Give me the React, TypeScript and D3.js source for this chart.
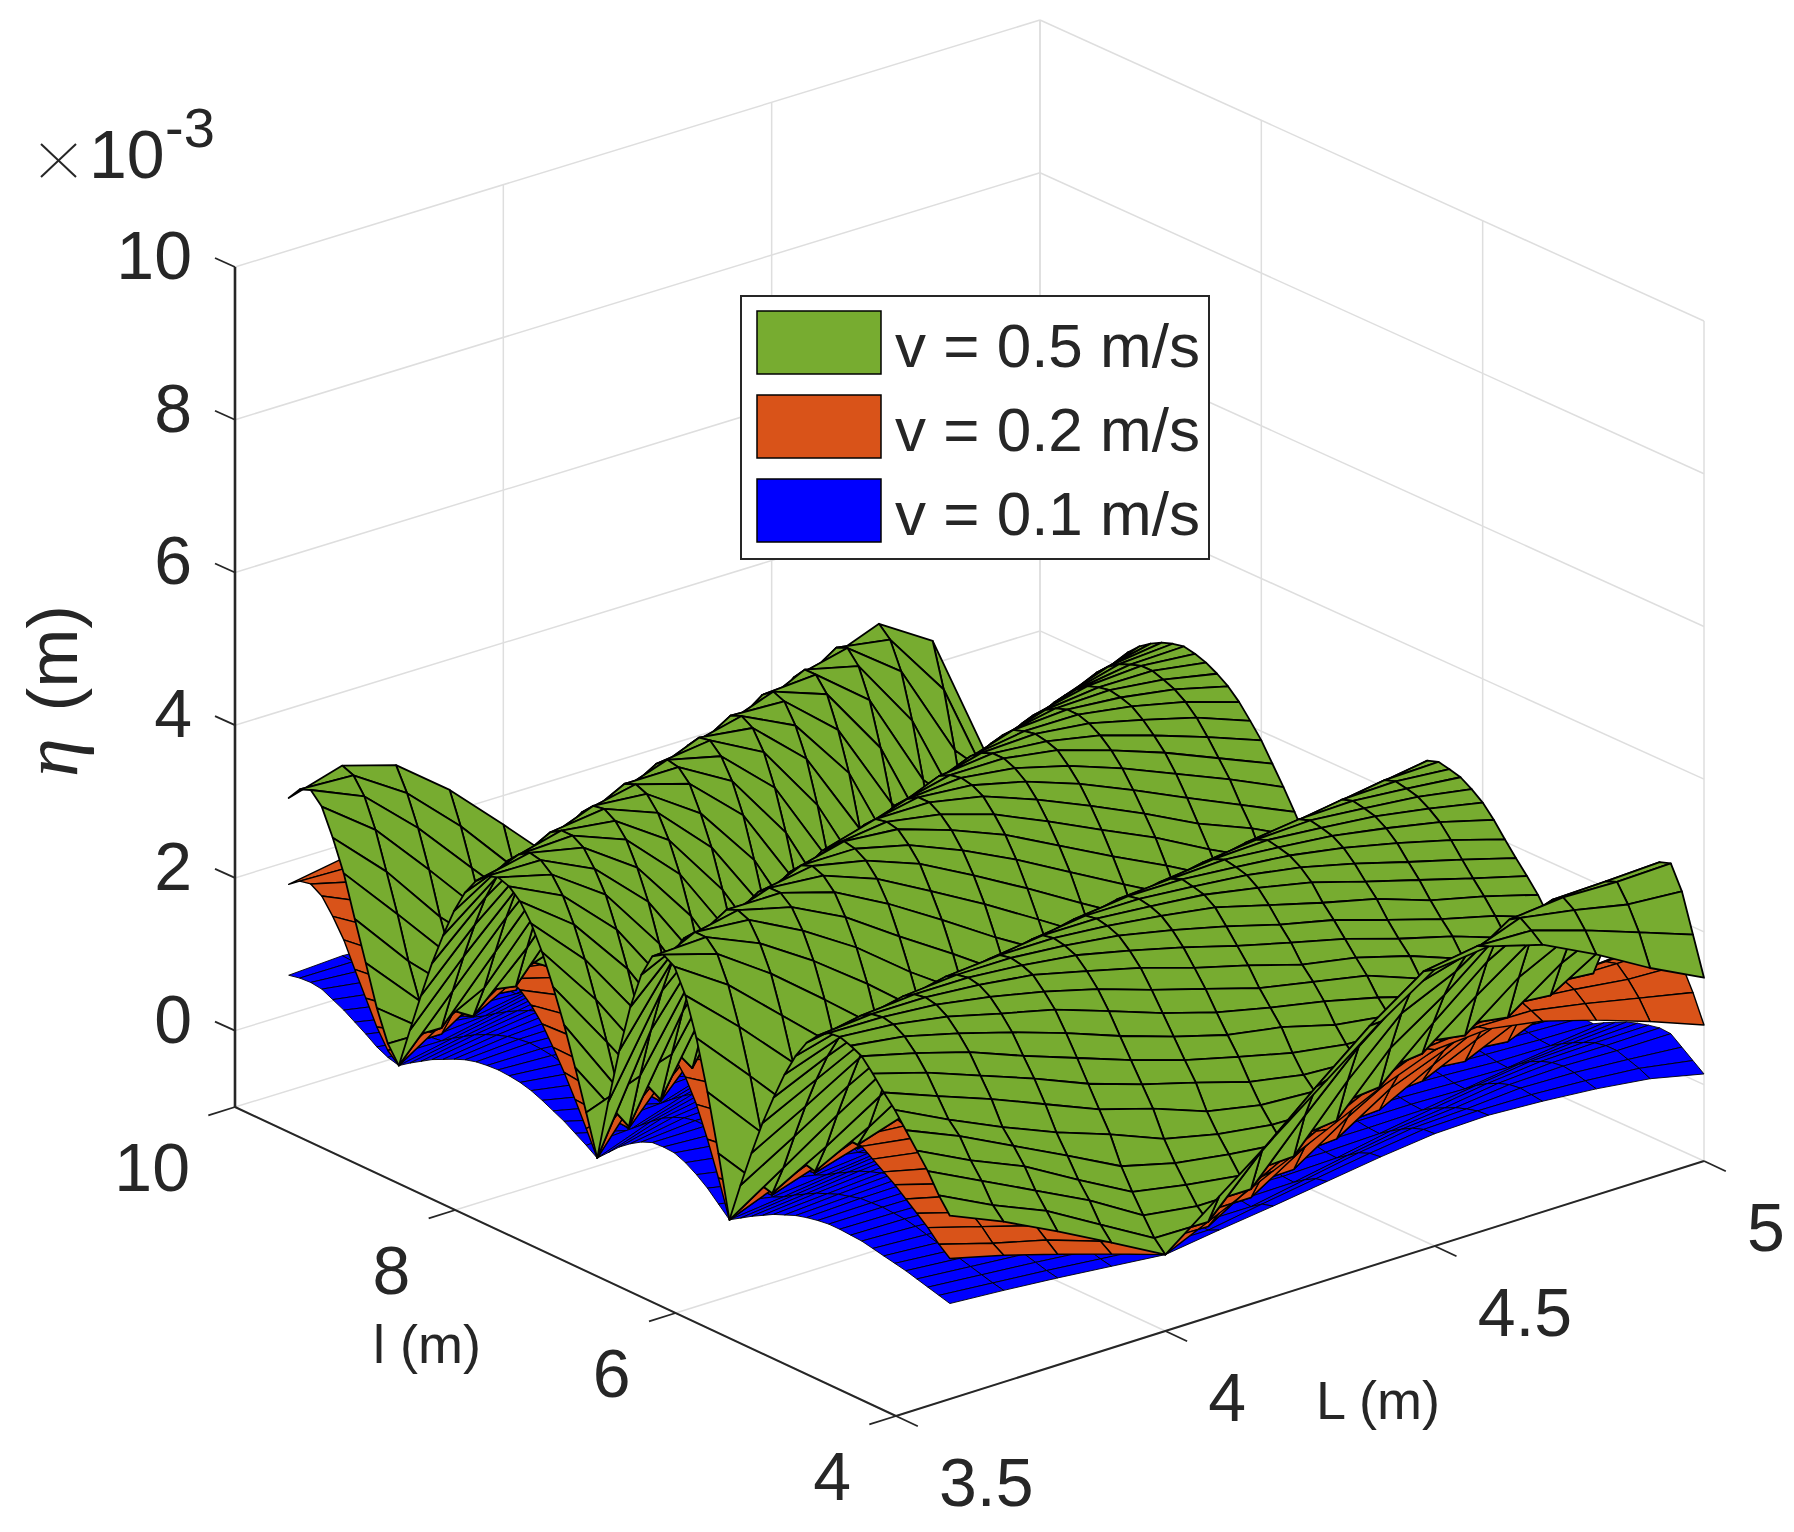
import { useEffect, useRef } from "react";
import * as d3 from "d3";

const W = 1794;
const H = 1532;

// grid of the surfaces (mesh lines)
const lengthL = [3.6, 3.7, 3.8, 3.9, 4.0, 4.1, 4.2, 4.3, 4.4, 4.5, 4.6, 4.7, 4.8, 4.9, 5.0];
const lengthS = [
	4, 4.1, 4.2, 4.3, 4.4, 4.5, 4.6, 4.7, 4.8, 4.9, 5,
	5.1, 5.2, 5.3, 5.4, 5.5, 5.6, 5.7, 5.8, 5.9, 6,
	6.1, 6.2, 6.3, 6.4, 6.5, 6.6, 6.7, 6.8, 6.9, 7,
	7.1, 7.2, 7.3, 7.4, 7.5, 7.6, 7.7, 7.8, 7.9, 8,
	8.1, 8.2, 8.3, 8.4, 8.5, 8.6, 8.7, 8.8, 8.9, 9,
	9.1, 9.2, 9.3, 9.4, 9.5, 9.6, 9.7, 9.8, 9.9, 10,
];

const xTicks = [3.5, 4, 4.5, 5];
const xTickLabels = ["3.5", "4", "4.5", "5"];
const yTicks = [4, 6, 8, 10];
const zTicks = [0, 2, 4, 6, 8, 10];

const legendLabels = ["v = 0.5 m/s", "v = 0.2 m/s", "v = 0.1 m/s"];
const colors = { green: "#77ac30", orange: "#d95319", blue: "#0000ff" };

// eta x 10^3, one row per value of lengthL, one entry per value of lengthS
const etaV05 = [
	[1.40, 1.60,1.85,2.05,2.25,2.45,2.61,2.79,2.95,3.02,3.07, 3.05,2.95,2.79,2.55,2.24,1.87,1.47,1.01,.52,0, .80,1.54,2.18,2.67,2.98,3.07,2.98,2.67,2.18,1.54, .80,0,.53,1.05,1.54,1.97,2.36,2.67,2.89,3.02, 3.07,3.02,2.89,2.67,2.36,1.97,1.54,1.05,.53,0, .22,.62,1.14,1.65,2.18,2.58,2.92,3.07,3.01,2.83],
	[1.10, 1.25,1.50,1.70,1.95,2.10,2.34,2.58,2.77,2.92,3.01, 3.04,3.01,2.92,2.74,2.49,2.19,1.82,1.40,.94,.46, .06,.79,1.46,2.04,2.52,2.86,3.01,3.01,2.86,2.52, 2.04,1.46,.79,.06,.49,1.03,1.52,1.98,2.37,2.68, 2.89,3.01,3.04,2.95,2.80,2.52,2.19,1.76,1.28,.76, .21,.09,.43,.88,1.43,1.92,2.40,2.77,2.98,3.04],
	[.75, .95,1.15,1.40,1.60,1.78,2.08,2.32,2.56,2.74,2.89, 2.98,3.01,2.98,2.89,2.71,2.47,2.17,1.81,1.38,.93, .45,.06,.72,1.35,1.90,2.38,2.71,2.95,3.01,2.95, 2.71,2.38,1.90,1.35,.72,.06,.51,1.05,1.57,2.02, 2.41,2.68,2.89,2.98,2.98,2.89,2.68,2.35,1.96,1.51, .99,.45,.01,.24,.66,1.11,1.66,2.14,2.53,2.83],
	[.38, .55,.80,1.00,1.25,1.49,1.79,2.06,2.29,2.53,2.71, 2.86,2.95,2.98,2.95,2.86,2.68,2.44,2.15,1.76,1.37, .89,.42,.12,.72,1.28,1.82,2.26,2.59,2.83,2.95, 2.95,2.83,2.59,2.26,1.82,1.28,.72,.12,.48,1.04, 1.55,2.03,2.41,2.71,2.89,2.98,2.95,2.80,2.53,2.18, 1.76,1.25,.69,.12,.12,.45,.89,1.40,1.88,2.29],
	[0, .15,.38,.62,.89,1.24,1.50,1.77,2.04,2.30,2.54, 2.71,2.86,2.92,2.95,2.92,2.80,2.63,2.39,2.09,1.71, 1.30,.86,.35,.18,.71,1.24,1.74,2.15,2.48,2.74, 2.89,2.95,2.89,2.74,2.48,2.15,1.74,1.24,.71,.18, .41,1.00,1.56,2.04,2.42,2.71,2.89,2.95,2.89,2.68, 2.39,1.98,1.50,.94,.35,.03,.30,.68,1.12,1.62],
	[.54, .14,.28,.49,.71,.96,1.29,1.54,1.79,2.04,2.30, 2.52,2.69,2.83,2.89,2.92,2.89,2.77,2.60,2.37,2.07, 1.69,1.28,.85,.35,.15,.67,1.17,1.61,2.01,2.37, 2.63,2.80,2.89,2.92,2.80,2.66,2.39,2.07,1.66,1.20, .70,.20,.38,.99,1.55,2.04,2.42,2.74,2.89,2.92, 2.80,2.57,2.22,1.75,1.23,.61,0,.18,.50,.93],
	[1.08, .85,.28,.39,.60,.80,1.03,1.34,1.57,1.81,2.05, 2.29,2.51,2.67,2.80,2.86,2.89,2.86,2.75,2.57,2.31, 2.02,1.65,1.24,.78,.29,.20,.66,1.13,1.56,1.94, 2.25,2.54,2.72,2.86,2.89,2.86,2.72,2.54,2.25,1.94, 1.56,1.13,.66,.20,.38,1.01,1.59,2.11,2.49,2.75, 2.89,2.86,2.69,2.37,1.97,1.42,.84,.20,.09,.38],
	[1.62, 1.46,1.02,.42,.52,.70,.89,1.13,1.39,1.61,1.84, 2.08,2.29,2.49,2.65,2.77,2.83,2.86,2.83,2.72,2.52, 2.29,1.97,1.60,1.17,.72,.23,.23,.66,1.09,1.49, 1.86,2.17,2.43,2.63,2.77,2.86,2.86,2.77,2.63,2.43, 2.17,1.86,1.49,1.09,.66,.23,.34,1.00,1.60,2.12, 2.52,2.77,2.86,2.80,2.57,2.20,1.72,1.12,.49,.02],
	[2.16, 2.04,1.70,1.19,.60,.68,.85,1.00,1.22,1.49,1.68, 1.87,2.10,2.29,2.48,2.66,2.76,2.80,2.83,2.77,2.66, 2.49,2.21,1.92,1.56,1.13,.68,.20,.25,.65,1.08, 1.44,1.78,2.09,2.35,2.55,2.72,2.80,2.83,2.80,2.72, 2.55,2.35,2.09,1.78,1.44,1.08,.65,.25,.28,.96, 1.61,2.15,2.52,2.77,2.83,2.72,2.43,2.01,1.42,.76],
	[2.62, 2.53,2.26,1.85,1.33,.75,.82,.96,1.11,1.30,1.54, 1.73,1.89,2.11,2.28,2.47,2.63,2.73,2.77,2.80,2.74, 2.63,2.46,2.18,1.90,1.54,1.12,.67,.20,.22,.62, 1.01,1.37,1.71,1.99,2.24,2.46,2.63,2.74,2.80,2.80, 2.74,2.63,2.46,2.24,1.99,1.71,1.37,1.01,.62,.22, .31,1.01,1.68,2.18,2.58,2.77,2.77,2.60,2.24,1.71],
	[2.70, 2.64,2.46,2.17,1.80,1.37,.90,.96,1.08,1.20,1.37, 1.59,1.76,1.94,2.12,2.28,2.48,2.61,2.70,2.74,2.77, 2.71,2.60,2.41,2.16,1.86,1.50,1.08,.64,.14,.25, .64,.97,1.33,1.63,1.91,2.16,2.38,2.55,2.69,2.74, 2.77,2.74,2.69,2.55,2.38,2.16,1.91,1.63,1.33,.97, .64,.25,.22,1.00,1.66,2.22,2.60,2.77,2.71,2.47],
	[2.50, 2.62,2.72,2.63,2.36,1.95,1.43,.85,.91,1.04,1.16, 1.33,1.56,1.72,1.90,2.11,2.27,2.44,2.58,2.67,2.71, 2.74,2.69,2.55,2.36,2.11,1.78,1.42,1.01,.58,.11, .27,.63,.96,1.29,1.59,1.84,2.08,2.30,2.47,2.60, 2.69,2.74,2.74,2.69,2.60,2.47,2.30,2.08,1.84,1.59, 1.29,.96,.63,.27,.16,.96,1.67,2.25,2.60,2.74],
	[2.15, 2.40,2.60,2.70,2.60,2.34,1.92,1.39,.80,.86,.99, 1.12,1.30,1.53,1.69,1.87,2.07,2.24,2.42,2.55,2.64, 2.68,2.71,2.66,2.52,2.33,2.09,1.76,1.41,1.00,.57, .11,.27,.60,.92,1.22,1.49,1.76,2.01,2.22,2.38, 2.52,2.63,2.68,2.71,2.68,2.63,2.52,2.38,2.22,2.01, 1.76,1.49,1.22,.92,.60,.27,.16,1.00,1.73,2.30],
	[1.75, 2.15,2.45,2.68,2.62,2.43,2.13,1.74,1.29,.80,.86, .99,1.13,1.29,1.51,1.70,1.87,2.05,2.24,2.41,2.52, 2.61,2.65,2.68,2.63,2.49,2.30,2.04,1.72,1.37,.96, .51,.05,.29,.59,.88,1.21,1.45,1.72,1.93,2.14, 2.33,2.47,2.57,2.63,2.68,2.68,2.63,2.57,2.47,2.33, 2.14,1.93,1.72,1.45,1.21,.88,.59,.29,.08,.60],
	[1.40, 1.90,2.40,2.70,2.65,2.51,2.28,1.98,1.62,1.22,.80, .86,.98,1.12,1.27,1.50,1.68,1.85,2.03,2.22,2.38, 2.49,2.58,2.62,2.65,2.60,2.44,2.25,1.99,1.67,1.30, .90,.45,0,.29,.58,.87,1.14,1.40,1.64,1.88, 2.07,2.25,2.39,2.49,2.57,2.62,2.65,2.62,2.57,2.49, 2.39,2.25,2.07,1.88,1.64,1.40,1.14,.87,.58,.29],
];

const etaV02 = [
	[.84, .96,1.11,1.23,1.35,1.47,1.57,1.67,1.77,1.81,1.84, 1.83,1.77,1.67,1.53,1.34,1.12,.88,.61,.31,0, .48,.92,1.31,1.60,1.79,1.84,1.79,1.60,1.31,.92, .48,0,.32,.63,.92,1.18,1.42,1.60,1.73,1.81, 1.84,1.81,1.73,1.60,1.42,1.18,.92,.63,.32,0, .13,.37,.68,.99,1.31,1.55,1.75,1.84,1.81,1.70],
	[.66, .75,.90,1.02,1.17,1.26,1.40,1.55,1.66,1.75,1.81, 1.82,1.81,1.75,1.64,1.49,1.31,1.09,.84,.56,.28, .04,.47,.88,1.22,1.51,1.72,1.81,1.81,1.72,1.51, 1.22,.88,.47,.04,.29,.62,.91,1.19,1.42,1.61, 1.73,1.81,1.82,1.77,1.68,1.51,1.31,1.06,.77,.46, .13,.05,.26,.53,.86,1.15,1.44,1.66,1.79,1.82],
	[.45, .57,.69,.84,.96,1.07,1.25,1.39,1.54,1.64,1.73, 1.79,1.81,1.79,1.73,1.63,1.48,1.30,1.09,.83,.56, .27,.04,.43,.81,1.14,1.43,1.63,1.77,1.81,1.77, 1.63,1.43,1.14,.81,.43,.04,.31,.63,.94,1.21, 1.45,1.61,1.73,1.79,1.79,1.73,1.61,1.41,1.18,.91, .59,.27,.01,.14,.40,.67,1.00,1.28,1.52,1.70],
	[.23, .33,.48,.60,.75,.89,1.07,1.24,1.37,1.52,1.63, 1.72,1.77,1.79,1.77,1.72,1.61,1.46,1.29,1.06,.82, .53,.25,.07,.43,.77,1.09,1.36,1.55,1.70,1.77, 1.77,1.70,1.55,1.36,1.09,.77,.43,.07,.29,.62, .93,1.22,1.45,1.63,1.73,1.79,1.77,1.68,1.52,1.31, 1.06,.75,.41,.07,.07,.27,.53,.84,1.13,1.37],
	[0, .09,.23,.37,.53,.74,.90,1.06,1.22,1.38,1.52, 1.63,1.72,1.75,1.77,1.75,1.68,1.58,1.43,1.25,1.03, .78,.52,.21,.11,.43,.74,1.04,1.29,1.49,1.64, 1.73,1.77,1.73,1.64,1.49,1.29,1.04,.74,.43,.11, .25,.60,.94,1.22,1.45,1.63,1.73,1.77,1.73,1.61, 1.43,1.19,.90,.56,.21,.02,.18,.41,.67,.97],
	[.32, .08,.17,.29,.43,.58,.77,.92,1.07,1.22,1.38, 1.51,1.61,1.70,1.73,1.75,1.73,1.66,1.56,1.42,1.24, 1.01,.77,.51,.21,.09,.40,.70,.97,1.21,1.42, 1.58,1.68,1.73,1.75,1.68,1.60,1.43,1.24,1.00,.72, .42,.12,.23,.59,.93,1.22,1.45,1.64,1.73,1.75, 1.68,1.54,1.33,1.05,.74,.37,0,.11,.30,.56],
	[.65, .51,.17,.23,.36,.48,.62,.80,.94,1.09,1.23, 1.37,1.51,1.60,1.68,1.72,1.73,1.72,1.65,1.54,1.39, 1.21,.99,.74,.47,.17,.12,.40,.68,.94,1.16, 1.35,1.52,1.63,1.72,1.73,1.72,1.63,1.52,1.35,1.16, .94,.68,.40,.12,.23,.61,.95,1.27,1.49,1.65, 1.73,1.72,1.61,1.42,1.18,.85,.50,.12,.05,.23],
	[.97, .88,.61,.25,.31,.42,.53,.68,.83,.97,1.10, 1.25,1.37,1.49,1.59,1.66,1.70,1.72,1.70,1.63,1.51, 1.37,1.18,.96,.70,.43,.14,.14,.40,.65,.89, 1.12,1.30,1.46,1.58,1.66,1.72,1.72,1.66,1.58,1.46, 1.30,1.12,.89,.65,.40,.14,.20,.60,.96,1.27, 1.51,1.66,1.72,1.68,1.54,1.32,1.03,.67,.29,.01],
	[1.30, 1.22,1.02,.71,.36,.41,.51,.60,.73,.89,1.01, 1.12,1.26,1.37,1.49,1.60,1.66,1.68,1.70,1.66,1.60, 1.49,1.33,1.15,.94,.68,.41,.12,.15,.39,.65, .86,1.07,1.25,1.41,1.53,1.63,1.68,1.70,1.68,1.63, 1.53,1.41,1.25,1.07,.86,.65,.39,.15,.17,.58, .97,1.29,1.51,1.66,1.70,1.63,1.46,1.21,.85,.46],
	[1.57, 1.52,1.36,1.11,.80,.45,.49,.58,.67,.78,.92, 1.04,1.13,1.27,1.37,1.48,1.58,1.64,1.66,1.68,1.64, 1.58,1.48,1.31,1.14,.92,.67,.40,.12,.13,.37, .61,.82,1.03,1.19,1.34,1.48,1.58,1.64,1.68,1.68, 1.64,1.58,1.48,1.34,1.19,1.03,.82,.61,.37,.13, .19,.61,1.01,1.31,1.55,1.66,1.66,1.56,1.34,1.03],
	[1.62, 1.58,1.48,1.30,1.08,.82,.54,.58,.65,.72,.82, .95,1.06,1.16,1.27,1.37,1.49,1.57,1.62,1.64,1.66, 1.63,1.56,1.45,1.30,1.12,.90,.65,.38,.08,.15, .38,.58,.80,.98,1.15,1.30,1.43,1.53,1.61,1.64, 1.66,1.64,1.61,1.53,1.43,1.30,1.15,.98,.80,.58, .38,.15,.13,.60,1.00,1.33,1.56,1.66,1.63,1.48],
	[1.50, 1.57,1.63,1.58,1.42,1.17,.86,.51,.55,.62,.70, .80,.94,1.03,1.14,1.27,1.36,1.46,1.55,1.60,1.63, 1.64,1.61,1.53,1.42,1.27,1.07,.85,.61,.35,.07, .16,.38,.58,.77,.95,1.10,1.25,1.38,1.48,1.56, 1.61,1.64,1.64,1.61,1.56,1.48,1.38,1.25,1.10,.95, .77,.58,.38,.16,.10,.58,1.00,1.35,1.56,1.64],
	[1.29, 1.44,1.56,1.62,1.56,1.40,1.15,.83,.48,.52,.59, .67,.78,.92,1.01,1.12,1.24,1.34,1.45,1.53,1.58, 1.61,1.63,1.60,1.51,1.40,1.25,1.06,.85,.60,.34, .07,.16,.36,.55,.73,.89,1.06,1.21,1.33,1.43, 1.51,1.58,1.61,1.63,1.61,1.58,1.51,1.43,1.33,1.21, 1.06,.89,.73,.55,.36,.16,.10,.60,1.04,1.38],
	[1.05, 1.29,1.47,1.61,1.57,1.46,1.28,1.04,.77,.48,.52, .59,.68,.77,.91,1.02,1.12,1.23,1.34,1.45,1.51, 1.57,1.59,1.61,1.58,1.49,1.38,1.22,1.03,.82,.58, .31,.03,.17,.35,.53,.73,.87,1.03,1.16,1.28, 1.40,1.48,1.54,1.58,1.61,1.61,1.58,1.54,1.48,1.40, 1.28,1.16,1.03,.87,.73,.53,.35,.17,.05,.36],
	[.78, 1.14,1.44,1.62,1.59,1.51,1.37,1.19,.97,.73,.48, .52,.59,.67,.76,.90,1.01,1.11,1.22,1.33,1.43, 1.49,1.55,1.57,1.59,1.56,1.46,1.35,1.19,1.00,.78, .54,.27,0,.17,.35,.52,.68,.84,.98,1.13, 1.24,1.35,1.43,1.49,1.54,1.57,1.59,1.57,1.54,1.49, 1.43,1.35,1.24,1.13,.98,.84,.68,.52,.35,.17],
];

const etaV01 = [
	[.25, .29,.33,.37,.41,.44,.47,.50,.53,.54,.55, .55,.53,.50,.46,.40,.34,.26,.18,.09,0, .14,.28,.39,.48,.54,.55,.54,.48,.39,.28, .14,0,.10,.19,.28,.35,.42,.48,.52,.54, .55,.54,.52,.48,.42,.35,.28,.19,.10,0, .04,.11,.21,.30,.39,.46,.53,.55,.54,.51],
	[.20, .23,.27,.31,.35,.38,.42,.46,.50,.53,.54, .55,.54,.53,.49,.45,.39,.33,.25,.17,.08, .01,.14,.26,.37,.45,.51,.54,.54,.51,.45, .37,.26,.14,.01,.09,.19,.27,.36,.43,.48, .52,.54,.55,.53,.50,.45,.39,.32,.23,.14, .04,.02,.08,.16,.26,.35,.43,.50,.54,.55],
	[.14, .17,.21,.25,.29,.32,.37,.42,.46,.49,.52, .54,.54,.54,.52,.49,.44,.39,.33,.25,.17, .08,.01,.13,.24,.34,.43,.49,.53,.54,.53, .49,.43,.34,.24,.13,.01,.09,.19,.28,.36, .43,.48,.52,.54,.54,.52,.48,.42,.35,.27, .18,.08,0,.04,.12,.20,.30,.39,.46,.51],
	[.07, .10,.14,.18,.23,.27,.32,.37,.41,.46,.49, .51,.53,.54,.53,.51,.48,.44,.39,.32,.25, .16,.08,.02,.13,.23,.33,.41,.47,.51,.53, .53,.51,.47,.41,.33,.23,.13,.02,.09,.19, .28,.37,.43,.49,.52,.54,.53,.50,.46,.39, .32,.23,.12,.02,.02,.08,.16,.25,.34,.41],
	[0, .03,.07,.11,.16,.22,.27,.32,.37,.41,.46, .49,.51,.53,.53,.53,.50,.47,.43,.38,.31, .23,.15,.06,.03,.13,.22,.31,.39,.45,.49, .52,.53,.52,.49,.45,.39,.31,.22,.13,.03, .07,.18,.28,.37,.44,.49,.52,.53,.52,.48, .43,.36,.27,.17,.06,.01,.05,.12,.20,.29],
	[.10, .03,.05,.09,.13,.17,.23,.28,.32,.37,.41, .45,.48,.51,.52,.53,.52,.50,.47,.43,.37, .30,.23,.15,.06,.03,.12,.21,.29,.36,.43, .47,.50,.52,.53,.50,.48,.43,.37,.30,.22, .13,.04,.07,.18,.28,.37,.44,.49,.52,.53, .50,.46,.40,.32,.22,.11,0,.03,.09,.17],
	[.19, .15,.05,.07,.11,.14,.19,.24,.28,.33,.37, .41,.45,.48,.50,.51,.52,.51,.50,.46,.42, .36,.30,.22,.14,.05,.04,.12,.20,.28,.35, .41,.46,.49,.51,.52,.51,.49,.46,.41,.35, .28,.20,.12,.04,.07,.18,.29,.38,.45,.50, .52,.51,.48,.43,.35,.26,.15,.04,.02,.07],
	[.29, .26,.18,.08,.09,.13,.16,.20,.25,.29,.33, .37,.41,.45,.48,.50,.51,.51,.51,.49,.45, .41,.35,.29,.21,.13,.04,.04,.12,.20,.27, .33,.39,.44,.47,.50,.51,.51,.50,.47,.44, .39,.33,.27,.20,.12,.04,.06,.18,.29,.38, .45,.50,.51,.50,.46,.40,.31,.20,.09,0],
	[.39, .37,.31,.21,.11,.12,.15,.18,.22,.27,.30, .34,.38,.41,.45,.48,.50,.50,.51,.50,.48, .45,.40,.35,.28,.20,.12,.04,.05,.12,.19, .26,.32,.38,.42,.46,.49,.50,.51,.50,.49, .46,.42,.38,.32,.26,.19,.12,.05,.05,.17, .29,.39,.45,.50,.51,.49,.44,.36,.26,.14],
	[.47, .46,.41,.33,.24,.14,.15,.17,.20,.23,.28, .31,.34,.38,.41,.44,.47,.49,.50,.50,.49, .47,.44,.39,.34,.28,.20,.12,.04,.04,.11, .18,.25,.31,.36,.40,.44,.47,.49,.50,.50, .49,.47,.44,.40,.36,.31,.25,.18,.11,.04, .06,.18,.30,.39,.46,.50,.50,.47,.40,.31],
	[.49, .48,.44,.39,.32,.25,.16,.17,.19,.22,.25, .29,.32,.35,.38,.41,.45,.47,.49,.49,.50, .49,.47,.43,.39,.33,.27,.19,.12,.03,.05, .12,.17,.24,.29,.34,.39,.43,.46,.48,.49, .50,.49,.48,.46,.43,.39,.34,.29,.24,.17, .12,.05,.04,.18,.30,.40,.47,.50,.49,.44],
	[.45, .47,.49,.47,.42,.35,.26,.15,.16,.19,.21, .24,.28,.31,.34,.38,.41,.44,.46,.48,.49, .49,.48,.46,.42,.38,.32,.26,.18,.10,.02, .05,.11,.17,.23,.29,.33,.37,.41,.44,.47, .48,.49,.49,.48,.47,.44,.41,.37,.33,.29, .23,.17,.11,.05,.03,.17,.30,.41,.47,.49],
	[.39, .43,.47,.49,.47,.42,.35,.25,.14,.15,.18, .20,.23,.28,.30,.34,.37,.40,.44,.46,.48, .48,.49,.48,.45,.42,.38,.32,.25,.18,.10, .02,.05,.11,.17,.22,.27,.32,.36,.40,.43, .45,.47,.48,.49,.48,.47,.45,.43,.40,.36, .32,.27,.22,.17,.11,.05,.03,.18,.31,.41],
	[.30, .37,.42,.47,.47,.44,.38,.31,.23,.14,.15, .18,.20,.23,.27,.31,.34,.37,.40,.43,.45, .47,.48,.48,.47,.45,.41,.37,.31,.25,.17, .09,.01,.05,.11,.16,.22,.26,.31,.35,.39, .42,.44,.46,.47,.48,.48,.47,.46,.44,.42, .39,.35,.31,.26,.22,.16,.11,.05,.01,.11],
	[.14, .25,.36,.47,.48,.45,.41,.36,.29,.22,.14, .15,.18,.20,.23,.27,.30,.33,.37,.40,.43, .45,.46,.47,.48,.47,.44,.41,.36,.30,.23, .16,.08,0,.05,.10,.16,.21,.25,.30,.34, .37,.41,.43,.45,.46,.47,.48,.47,.46,.45, .43,.41,.37,.34,.30,.25,.21,.16,.10,.05],
];

const ink = "#262626";
const gridColor = "#dedede";
const font = "'Liberation Sans', Arial, sans-serif";

export default function App() {
	const ref = useRef<SVGSVGElement>(null);

	useEffect(() => {
		const svg = d3.select(ref.current);
		svg.selectAll("*").remove();

		// Axis box, fixed MATLAB-like view
		const origin = { x: 896, y: 1416 }; // L = 3.5, l = 4, z floor
		const alongX = { x: 808, y: -255 };
		const alongY = { x: -661, y: -309 };
		const boxHeight = 840;

		const sx = d3.scaleLinear().domain([3.5, 5]).range([0, 1]);
		const sy = d3.scaleLinear().domain([4, 10]).range([0, 1]);
		const sz = d3.scaleLinear().domain([-1, 10]).range([0, 1]);

		const project = (L: number, l: number, z: number): [number, number] => {
			const a = sx(L), b = sy(l), c = sz(z);
			// a and b term: the slight perspective at the back corner
			return [
				origin.x + a * alongX.x + b * alongY.x - 3 * a * b,
				origin.y + a * alongX.y + b * alongY.y - c * boxHeight + 8 * a * b,
			];
		};

		const seg = (g: any, p: [number, number], q: [number, number], color: string, width: number) =>
			g.append("line")
				.attr("x1", p[0]).attr("y1", p[1])
				.attr("x2", q[0]).attr("y2", q[1])
				.attr("stroke", color)
				.attr("stroke-width", width);

		const z0 = -1, z1 = 10;
		const xMin = 3.5, xMax = 5, yMin = 4, yMax = 10;

		// Grid on floor and the two back walls
		const grid = svg.append("g");
		xTicks.forEach(t => {
			seg(grid, project(t, yMin, z0), project(t, yMax, z0), gridColor, 1.5);
			seg(grid, project(t, yMax, z0), project(t, yMax, z1), gridColor, 1.5);
		});
		yTicks.forEach(t => {
			seg(grid, project(xMin, t, z0), project(xMax, t, z0), gridColor, 1.5);
			seg(grid, project(xMax, t, z0), project(xMax, t, z1), gridColor, 1.5);
		});
		zTicks.forEach(t => {
			seg(grid, project(xMin, yMax, t), project(xMax, yMax, t), gridColor, 1.5);
			seg(grid, project(xMax, yMax, t), project(xMax, yMin, t), gridColor, 1.5);
		});

		// Surfaces: lowest first, each one painted from the back corner forward
		const drawSurface = (values: number[][], fill: string, edgeWidth: number) => {
			const g = svg.append("g");
			const line = d3.line();
			for (let j = lengthS.length - 2; j >= 0; j--) {
				for (let i = lengthL.length - 2; i >= 0; i--) {
					const cell: [number, number][] = [
						project(lengthL[i], lengthS[j], values[i][j]),
						project(lengthL[i + 1], lengthS[j], values[i + 1][j]),
						project(lengthL[i + 1], lengthS[j + 1], values[i + 1][j + 1]),
						project(lengthL[i], lengthS[j + 1], values[i][j + 1]),
					];
					g.append("path")
						.attr("d", line(cell) + "Z")
						.attr("fill", fill)
						.attr("stroke", "#000")
						.attr("stroke-width", edgeWidth)
						.attr("stroke-linejoin", "round");
				}
			}
		};
		drawSurface(etaV01, colors.blue, 0.9);
		drawSurface(etaV02, colors.orange, 1.4);
		drawSurface(etaV05, colors.green, 1.8);

		// Axes with slanted 3D ticks
		const axes = svg.append("g");
		const tickLen = 0.033;
		seg(axes, project(xMin, yMin, z0), project(xMax, yMin, z0), ink, 2);
		seg(axes, project(xMin, yMin, z0), project(xMin, yMax, z0), ink, 2);
		seg(axes, project(xMin, yMax, z0), project(xMin, yMax, z1), ink, 2.6);

		const label = (x: number, y: number, text: string, anchor: string, size: number) =>
			svg.append("text")
				.attr("x", x)
				.attr("y", y)
				.attr("text-anchor", anchor)
				.attr("font-family", font)
				.attr("font-size", size)
				.attr("fill", ink)
				.text(text);

		zTicks.forEach(t => {
			const p = project(xMin, yMax, t);
			seg(axes, p, [p[0] - 20, p[1] - 9], ink, 1.8);
			label(p[0] - 43, p[1] + 12, String(t), "end", 68);
		});
		yTicks.forEach(t => {
			const p = project(xMin, t, z0);
			seg(axes, p, [p[0] - tickLen * alongX.x, p[1] - tickLen * alongX.y], ink, 1.8);
			label(p[0] - 45, p[1] + 84, String(t), "end", 68);
		});
		xTicks.forEach((t, i) => {
			const p = project(t, yMin, z0);
			seg(axes, p, [p[0] - tickLen * alongY.x, p[1] - tickLen * alongY.y], ink, 1.8);
			label(p[0] + 43, p[1] + 90, xTickLabels[i], "start", 68);
		});

		// Axis labels and exponent
		label(1316, 1419, "L (m)", "start", 54);
		label(373, 1363, "l (m)", "start", 54);
		label(89, 178, "10", "start", 68);
		label(165, 147, "-3", "start", 56);
		seg(svg, [41, 144], [76, 177], ink, 2);
		seg(svg, [76, 144], [41, 177], ink, 2);

		svg.append("text")
			.attr("transform", "translate(77,777) rotate(-90)")
			.attr("font-family", "'Liberation Serif', serif")
			.attr("font-style", "italic")
			.attr("font-size", 78)
			.attr("fill", ink)
			.text("η");
		svg.append("text")
			.attr("transform", "translate(77,605) rotate(-90)")
			.attr("text-anchor", "end")
			.attr("font-family", font)
			.attr("font-size", 71)
			.attr("fill", ink)
			.text("(m)");

		// Legend
		const legend = svg.append("g");
		legend.append("rect")
			.attr("x", 741).attr("y", 296)
			.attr("width", 468).attr("height", 263)
			.attr("fill", "#fff")
			.attr("stroke", ink)
			.attr("stroke-width", 2);
		const legendFills = [colors.green, colors.orange, colors.blue];
		const legendRow = d3.scaleLinear().domain([0, 2]).range([311, 479]);
		legendLabels.forEach((t, i) => {
			legend.append("rect")
				.attr("x", 757).attr("y", legendRow(i))
				.attr("width", 124).attr("height", 63)
				.attr("fill", legendFills[i])
				.attr("stroke", "#000")
				.attr("stroke-width", 1.5);
			legend.append("text")
				.attr("x", 895).attr("y", legendRow(i) + 56)
				.attr("font-family", font)
				.attr("font-size", 62)
				.attr("fill", ink)
				.text(t);
		});
	}, []);

	return (
		<svg
			ref={ref}
			width={W}
			height={H}
			viewBox={`0 0 ${W} ${H}`}
			style={{ position: "absolute", left: 0, top: 0, background: "#fff" }}
		/>
	);
}
